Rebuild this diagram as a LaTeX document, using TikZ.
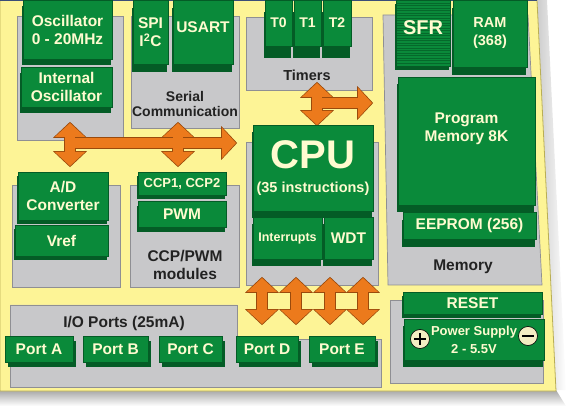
\documentclass[tikz,border=0pt]{standalone}
\usepackage{fontspec}
\setsansfont{Liberation Sans}
\usetikzlibrary{arrows.meta,shadows}

\definecolor{board}{HTML}{FDF496}
\definecolor{boardedge}{HTML}{B9AE55}
\definecolor{topline}{HTML}{3B4E78}
\definecolor{panelgrey}{HTML}{C8C8CA}
\definecolor{paneledge}{HTML}{8F8F93}
\definecolor{gface}{HTML}{0A8A3A}
\definecolor{gside}{HTML}{045C26}
\definecolor{gtext}{HTML}{FFFBD0}
\definecolor{poleface}{HTML}{F3EDC2}
\definecolor{busorange}{HTML}{EC7A1C}
\definecolor{busedge}{HTML}{9A4A0C}
\definecolor{labeldark}{HTML}{222222}

\tikzset{
  panel/.style={fill=panelgrey, draw=paneledge, line width=0.7pt},
  fsize/.style 2 args={font=\sffamily\bfseries\fontsize{#1}{#2}\selectfont},
  gboxbase/.style={draw=gside, line width=0.5pt, fill=gface, text=gtext, align=center, inner sep=0pt, fsize={15.5}{18}},
  gbox/.style={gboxbase, drop shadow={shadow xshift=-1.5pt, shadow yshift=-#1, fill=gside, opacity=1}},
  gbox/.default=6pt,
  portbox/.style={gboxbase, drop shadow={shadow xshift=3pt, shadow yshift=-5pt, fill=gside, opacity=1}},
  glabel/.style={text=labeldark, align=center, inner sep=0pt, fsize={15.5}{18}},
  pole/.style={circle, draw=black, line width=0.6pt, fill=poleface, minimum size=19pt, inner sep=0pt},
  busline/.style={draw=busedge, line width=12.6pt, >={Triangle[length=16pt,width=33pt]}, shorten >=-1.2pt, shorten <=-1.2pt},
  busfill/.style={draw=busorange, line width=10pt, >={Triangle[length=14pt,width=29.5pt]}}
}

% all orange buses, drawn once for the edge and once for the fill
\newcommand\drawbuses[1]{%
  \draw[#1,->] (busleft) -- (busright);
  \draw[#1,<->] (oscdown) -- (addown);
  \draw[#1,<->] (serdown) -- (ccpdown);
  \draw[#1,->] (timbus) -- (membus);
  \draw[#1,<->] (timdown) -- (cpuup);
  \foreach \i in {1,...,4}
    \draw[#1,<->] (cpuio\i) -- (portio\i);
}

\begin{document}
\begin{tikzpicture}[x=1pt,y=-1pt]
\useasboundingbox (0,0) rectangle (568,406);

% board
\shade[top color=black!35, bottom color=white] (0,390) -- (556,390) -- (566,406) -- (0,406) -- cycle;
\shade[left color=black!20, right color=white] (537,0) -- (556,390) -- (566,390) -- (547,0) -- cycle;
\filldraw[fill=board, draw=boardedge, line width=0.8pt] (0,0) -- (537,0) -- (556,391) -- (0,391) -- cycle;
\draw[topline, line width=1.2pt] (0,0.6) -- (537,0.6);

% grey panels
\draw[panel] (17,16) rectangle (123,140);
\draw[panel] (131,16) rectangle (239,128);
\draw[panel] (246,17) rectangle (372,90);
\draw[panel] (383,15) -- (528,15) -- (542,285) -- (388,285) -- cycle;
\draw[panel] (12,185) rectangle (120,287);
\draw[panel] (130,185) rectangle (239,287);
\draw[panel] (246,142) rectangle (378,285);
\draw[panel] (10,305) -- (237,305) -- (237,339) -- (381,339) -- (381,387) -- (10,387) -- cycle;
\draw[panel] (390,300) rectangle (543,383);

\node[glabel, fsize={14}{15}] (serlabel) at (185,103.5) {Serial\\Communication};
\node[glabel, fsize={14.5}{16}] (timlabel) at (307,75) {Timers};
\node[glabel] (memlabel) at (463,267) {Memory};
\node[glabel] (ccplabel) at (185,265) {CCP/PWM\\modules};
\node[glabel] (iolabel) at (124,323) {I/O Ports (25mA)};

% buses
\coordinate (oscdown) at (70,123);
\coordinate (addown) at (70,166);
\coordinate (busleft) at (70,143);
\coordinate (busright) at (236,143);
\coordinate (serdown) at (178,123);
\coordinate (ccpdown) at (178,166);
\coordinate (timdown) at (317,83);
\coordinate (cpuup) at (317,125);
\coordinate (timbus) at (317,103);
\coordinate (membus) at (372,103);
\foreach \x [count=\i] in {262,296,330,363} {
  \coordinate (cpuio\i) at (\x,278);
  \coordinate (portio\i) at (\x,324);
}
\drawbuses{busline}
\drawbuses{busfill}

% oscillators
\node[gbox, minimum width=89pt, minimum height=59pt] (osc) at (67.5,29.5) {Oscillator\\0 - 20MHz};
\node[gbox, minimum width=91pt, minimum height=40pt] (iosc) at (66.5,87) {Internal\\Oscillator};

% serial
\node[gbox=8pt, minimum width=35pt, minimum height=64pt] (spi) at (150.5,32) {SPI\\I\textsuperscript{2}C};
\node[gbox=8pt, minimum width=60pt, minimum height=64pt, text depth=9pt] (usart) at (203,32) {USART};

% timers
\node[gbox=12pt, minimum width=27pt, minimum height=46pt, fsize={14}{16}] (t0) at (278.5,23) {T0};
\node[gbox=12pt, minimum width=27pt, minimum height=46pt, fsize={14}{16}] (t1) at (307.5,23) {T1};
\node[gbox=12pt, minimum width=28pt, minimum height=46pt, fsize={14}{16}] (t2) at (337,23) {T2};

% memory
\node[gbox=4pt, minimum width=54pt, minimum height=66pt] (sfr) at (423,33) {};
\foreach \y in {3,5.5,...,65}
  \draw[gside, line width=0.6pt, opacity=0.7] (396,\y) -- (450,\y);
\node[text=gtext, inner sep=0pt, fsize={20}{20}] (sfrtext) at (423,28) {SFR};
\node[gbox=8pt, minimum width=74pt, minimum height=67pt, fsize={14.5}{18}] (ram) at (490,33.5) {RAM\\(368)};
\node[gbox=7pt, minimum width=137pt, minimum height=128pt, text depth=27pt] (prog) at (466.5,141) {Program\\Memory 8K};
\node[gbox=8pt, minimum width=133pt, minimum height=27pt] (eeprom) at (469.5,225.5) {EEPROM (256)};

% cpu
\node[gbox=7pt, minimum width=120pt, minimum height=86pt, fsize={14.5}{24}] (cpu) at (313,168) {{\fontsize{40}{40}\selectfont CPU}\\(35 instructions)};
\node[gbox=7pt, minimum width=69pt, minimum height=42pt, fsize={12.5}{14}] (intr) at (287.5,238) {Interrupts};
\node[gbox=7pt, minimum width=49pt, minimum height=42pt] (wdt) at (348.5,238) {WDT};

% a/d and ccp
\node[gbox=4pt, minimum width=90pt, minimum height=48pt] (ad) at (63,196) {A/D\\Converter};
\node[gbox=4pt, minimum width=93pt, minimum height=31pt] (vref) at (61.5,240.5) {Vref};
\node[gbox=4pt, minimum width=88pt, minimum height=23pt, fsize={13}{15}] (ccp) at (182,183.5) {CCP1, CCP2};
\node[gbox=5pt, minimum width=88pt, minimum height=26pt] (pwm) at (182,214) {PWM};

% ports
\node[portbox, minimum width=68pt, minimum height=26pt] (porta) at (39,349) {Port A};
\node[portbox, minimum width=65pt, minimum height=26pt] (portb) at (115.5,349) {Port B};
\node[portbox, minimum width=63pt, minimum height=26pt] (portc) at (190.5,349) {Port C};
\node[portbox, minimum width=62pt, minimum height=26pt] (portd) at (267,349) {Port D};
\node[portbox, minimum width=66pt, minimum height=26pt] (porte) at (342,349) {Port E};

% reset and power
\node[gbox=4pt, minimum width=139pt, minimum height=22pt] (reset) at (472.5,303) {RESET};
\node[gbox=7pt, minimum width=140pt, minimum height=41pt, fsize={13}{18}] (power) at (474,339.5) {Power Supply\\2 - 5.5V};
\node[pole] (plus) at (420,339) {};
\draw[line width=1.3pt] ([yshift=6pt]plus.center) -- ([yshift=-6pt]plus.center)
  ([xshift=-6pt]plus.center) -- ([xshift=6pt]plus.center);
\node[pole] (minus) at (528,336) {};
\draw[line width=1.3pt] ([xshift=-6pt]minus.center) -- ([xshift=6pt]minus.center);
\end{tikzpicture}
\end{document}
